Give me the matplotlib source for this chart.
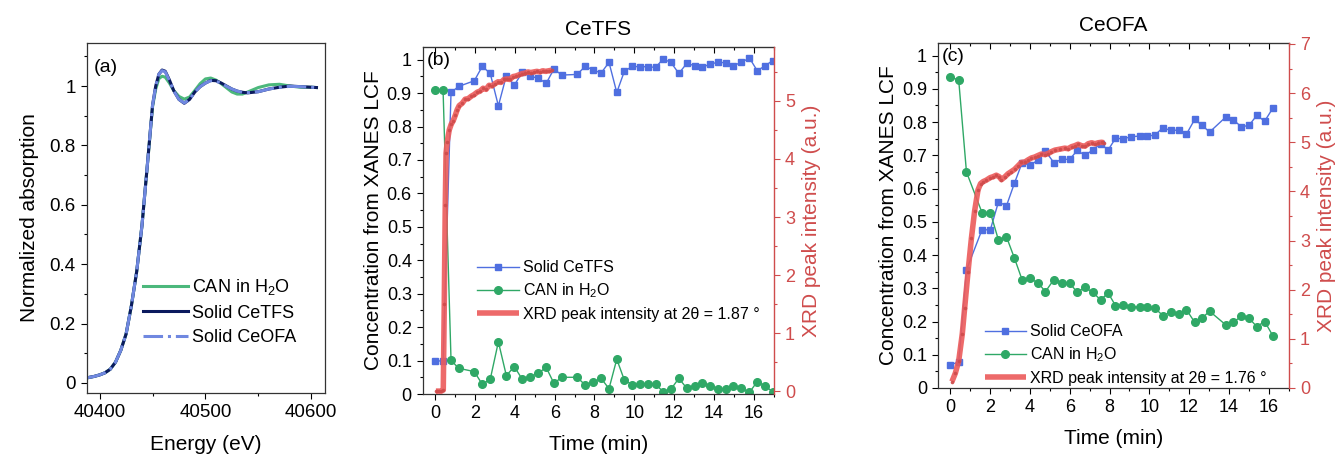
import matplotlib
matplotlib.use("Agg")
import matplotlib.pyplot as plt
from matplotlib.ticker import MultipleLocator, FuncFormatter

plt.rcParams['font.family'] = ['Liberation Sans', 'DejaVu Sans']
plt.rcParams['mathtext.default'] = 'regular'

GREEN = '#2fa866'
BLUE = '#4f6fe0'
NAVY = '#0b1a5e'
LBLUE = '#7088e0'
RED = '#ec5a5a'
DRED = '#cf4c4c'

# --- (a) XANES spectra ---
energy = [40388, 40395, 40400, 40405, 40410, 40415, 40420, 40425, 40430, 40435,
          40440, 40445, 40450, 40453, 40456, 40459, 40462, 40466, 40470, 40475,
          40480, 40485, 40490, 40495, 40500, 40505, 40510, 40515, 40520, 40525,
          40530, 40535, 40540, 40550, 40560, 40570, 40580, 40590, 40600, 40605]
can_h2o = [0.017, 0.022, 0.027, 0.034, 0.046, 0.07, 0.11, 0.165, 0.26, 0.375,
           0.53, 0.73, 0.93, 0.99, 1.025, 1.033, 1.03, 1.01, 0.985, 0.965,
           0.956, 0.963, 0.985, 1.008, 1.024, 1.027, 1.02, 1.008, 0.994, 0.98,
           0.973, 0.973, 0.98, 0.995, 1.004, 1.006, 1.0, 0.996, 0.996, 0.995]
solid_cetfs = [0.017, 0.022, 0.027, 0.034, 0.046, 0.07, 0.11, 0.165, 0.26, 0.375,
               0.53, 0.73, 0.935, 1.0, 1.04, 1.054, 1.05, 1.02, 0.985, 0.955,
               0.942, 0.955, 0.98, 0.998, 1.01, 1.019, 1.018, 1.01, 1.0, 0.99,
               0.983, 0.979, 0.977, 0.981, 0.99, 0.996, 1.0, 0.998, 0.996, 0.995]
solid_ceofa = [0.017, 0.022, 0.027, 0.034, 0.046, 0.07, 0.11, 0.165, 0.26, 0.375,
               0.53, 0.73, 0.935, 1.0, 1.04, 1.052, 1.048, 1.018, 0.984, 0.955,
               0.943, 0.955, 0.98, 0.998, 1.01, 1.018, 1.017, 1.009, 0.999, 0.99,
               0.983, 0.979, 0.978, 0.981, 0.99, 0.996, 0.999, 0.998, 0.996, 0.995]

# --- (b) CeTFS ---
t_b = [0, 0.39, 0.79, 1.17, 1.96, 2.36, 2.76, 3.17, 3.57, 3.97, 4.37, 4.77, 5.18, 5.57,
       5.96, 6.36, 7.13, 7.53, 7.92, 8.33, 8.73, 9.12, 9.5, 9.89, 10.27, 10.68, 11.07,
       11.45, 11.84, 12.24, 12.64, 13.03, 13.42, 13.8, 14.2, 14.59, 14.97, 15.38, 15.79,
       16.18, 16.58, 16.95]
solid_b = [0.10, 0.098, 0.902, 0.92, 0.937, 0.98, 0.959, 0.862, 0.952, 0.924, 0.962, 0.95,
           0.945, 0.929, 0.972, 0.954, 0.956, 0.98, 0.97, 0.96, 0.992, 0.902, 0.965, 0.98,
           0.979, 0.979, 0.977, 1.002, 0.992, 0.959, 0.989, 0.982, 0.977, 0.987, 0.992,
           0.991, 0.982, 0.992, 1.005, 0.967, 0.982, 0.997]
can_b = [0.909, 0.909, 0.101, 0.077, 0.067, 0.029, 0.044, 0.156, 0.055, 0.082, 0.044, 0.052,
         0.062, 0.080, 0.032, 0.050, 0.050, 0.027, 0.035, 0.047, 0.016, 0.104, 0.042, 0.028,
         0.029, 0.029, 0.029, 0.007, 0.014, 0.047, 0.017, 0.025, 0.032, 0.025, 0.015, 0.015,
         0.024, 0.017, 0.005, 0.037, 0.024, 0.007]
t_xrd_b = [0.03, 0.1, 0.2, 0.3, 0.4, 0.45, 0.5, 0.54, 0.6, 0.7, 0.8, 0.9, 1.0, 1.1, 1.2,
           1.35, 1.5, 1.65, 1.8, 1.95, 2.1, 2.25, 2.4, 2.55, 2.7, 2.85, 3.0, 3.15, 3.3, 3.45,
           3.6, 3.75, 3.9, 4.05, 4.2, 4.35, 4.5, 4.65, 4.8, 4.95, 5.1, 5.25, 5.4, 5.55, 5.7, 5.86]
xrd_b = [0.0, 0.0, 0.0, 0.0, 0.02, 1.5, 3.2, 4.1, 4.3, 4.5, 4.6, 4.66, 4.75, 4.85, 4.92,
         4.96, 5.03, 5.04, 5.08, 5.11, 5.15, 5.17, 5.22, 5.2, 5.27, 5.26, 5.3, 5.33, 5.32,
         5.37, 5.38, 5.37, 5.42, 5.43, 5.45, 5.47, 5.48, 5.5, 5.49, 5.5, 5.51, 5.5, 5.52,
         5.51, 5.52, 5.53]

# --- (c) CeOFA ---
t_c = [0, 0.42, 0.81, 1.59, 2.01, 2.42, 2.82, 3.22, 3.61, 4.0, 4.41, 4.78, 5.2, 5.62, 6.0,
       6.38, 6.76, 7.16, 7.55, 7.93, 8.3, 8.69, 9.09, 9.51, 9.9, 10.28, 10.68, 11.07, 11.49,
       11.86, 12.28, 12.66, 13.03, 13.84, 14.23, 14.63, 15.01, 15.4, 15.8, 16.22]
solid_c = [0.07, 0.078, 0.355, 0.476, 0.476, 0.56, 0.548, 0.616, 0.678, 0.67, 0.686, 0.713,
           0.678, 0.688, 0.688, 0.715, 0.70, 0.716, 0.735, 0.716, 0.751, 0.75, 0.756, 0.758,
           0.758, 0.761, 0.783, 0.775, 0.776, 0.763, 0.808, 0.79, 0.77, 0.815, 0.806, 0.786,
           0.79, 0.82, 0.803, 0.843]
can_c = [0.935, 0.927, 0.65, 0.528, 0.528, 0.445, 0.455, 0.391, 0.325, 0.33, 0.316, 0.29,
         0.326, 0.315, 0.315, 0.288, 0.303, 0.288, 0.265, 0.286, 0.248, 0.25, 0.245, 0.243,
         0.243, 0.24, 0.218, 0.228, 0.223, 0.236, 0.198, 0.211, 0.231, 0.19, 0.198, 0.216,
         0.21, 0.185, 0.2, 0.156]
t_xrd_c = [0.08, 0.25, 0.42, 0.6, 0.72, 0.89, 1.06, 1.22, 1.39, 1.52, 1.65, 1.81, 2.0, 2.15,
           2.31, 2.45, 2.57, 2.75, 2.9, 3.05, 3.23, 3.4, 3.57, 3.75, 3.9, 4.07, 4.24, 4.4,
           4.57, 4.75, 4.91, 5.08, 5.25, 5.5, 5.75, 5.92, 6.09, 6.25, 6.42, 6.6, 6.76, 6.93,
           7.1, 7.27, 7.43, 7.6, 7.72]
xrd_c = [0.13, 0.3, 0.55, 1.1, 1.63, 2.37, 3.05, 3.6, 4.03, 4.16, 4.2, 4.23, 4.28, 4.3,
         4.33, 4.3, 4.24, 4.3, 4.36, 4.4, 4.45, 4.52, 4.59, 4.6, 4.64, 4.68, 4.70, 4.73,
         4.76, 4.75, 4.77, 4.81, 4.84, 4.86, 4.88, 4.87, 4.91, 4.93, 4.96, 4.93, 4.92, 4.97,
         4.99, 4.97, 4.99, 5.0, 4.99]

TICK = 13
LAB = 15

fig = plt.figure(figsize=(13.36, 4.59), dpi=100)
plain = FuncFormatter(lambda v, p: f'{v:g}')


def style_axis(ax):
    ax.tick_params(which='both', direction='out', labelsize=TICK, top=False, right=False)
    ax.tick_params(which='major', length=4.5, width=0.8)
    ax.tick_params(which='minor', length=2.5, width=0.8)
    for s in ax.spines.values():
        s.set_color('#333333')
        s.set_linewidth(0.9)


# panel (a)
ax_a = fig.add_axes([0.0651, 0.1438, 0.1781, 0.7625])
ax_a.plot(energy, can_h2o, color='#4cb87c', lw=2.2, label='CAN in H$_2$O')
ax_a.plot(energy, solid_cetfs, color=NAVY, lw=2.2, label='Solid CeTFS')
ax_a.plot(energy, solid_ceofa, color=LBLUE, lw=2.2, ls='-.', label='Solid CeOFA')
ax_a.set_xlim(40388, 40613)
ax_a.set_ylim(-0.034, 1.145)
ax_a.xaxis.set_major_locator(MultipleLocator(100))
ax_a.xaxis.set_minor_locator(MultipleLocator(50))
ax_a.yaxis.set_major_locator(MultipleLocator(0.2))
ax_a.yaxis.set_minor_locator(MultipleLocator(0.1))
ax_a.yaxis.set_major_formatter(plain)
style_axis(ax_a)
ax_a.tick_params(labelsize=13.5)
ax_a.set_xlabel('Energy (eV)', fontsize=15, labelpad=10)
ax_a.set_ylabel('Normalized absorption', fontsize=15, labelpad=8)
ax_a.text(0.03, 0.955, '(a)', transform=ax_a.transAxes, fontsize=14, va='top')
ax_a.legend(loc='upper left', bbox_to_anchor=(0.235, 0.33), frameon=False, fontsize=13,
            handlelength=2.5, handletextpad=0.2, labelspacing=0.4, borderpad=0, borderaxespad=0)


def kinetics_panel(rect, t, solid, can, t_x, xrd, solid_label, xrd_label, title, tag,
                   ylim2, yticks2, leg_anchor):
    ax = fig.add_axes(rect)
    ax.plot(t, solid, color=BLUE, lw=1, marker='s', ms=5, label=solid_label)
    ax.plot(t, can, color=GREEN, lw=1, marker='o', ms=5.5, label='CAN in H$_2$O')
    ax.set_xlim(-0.62, 17.02)
    ax.set_ylim(0, 1.038)
    ax.xaxis.set_major_locator(MultipleLocator(2))
    ax.xaxis.set_minor_locator(MultipleLocator(1))
    ax.yaxis.set_major_locator(MultipleLocator(0.1))
    ax.yaxis.set_minor_locator(MultipleLocator(0.05))
    ax.yaxis.set_major_formatter(plain)
    style_axis(ax)
    ax.set_xlabel('Time (min)', fontsize=LAB, labelpad=9)
    ax.set_ylabel('Concentration from XANES LCF', fontsize=LAB, labelpad=3)
    ax.set_title(title, fontsize=LAB, pad=9)
    ax.text(0.01, 0.985, tag, transform=ax.transAxes, fontsize=14, va='top')
    ax.spines['right'].set_visible(False)

    # inward ticks along the top frame
    top = ax.secondary_xaxis('top')
    top.xaxis.set_major_locator(MultipleLocator(2))
    top.xaxis.set_minor_locator(MultipleLocator(1))
    top.tick_params(which='both', direction='in', labeltop=False, width=0.8)
    top.tick_params(which='major', length=4.5)
    top.tick_params(which='minor', length=2.5)
    top.spines['top'].set_color('#333333')

    ax2 = ax.twinx()
    ax2.plot(t_x, xrd, color=RED, lw=4, alpha=0.9, solid_capstyle='butt',
             marker='o', ms=1.6, mfc=DRED, mec=DRED, label=xrd_label)
    ax2.set_ylim(*ylim2)
    ax2.yaxis.set_minor_locator(MultipleLocator(0.5))
    ax2.set_yticks(yticks2)
    ax2.tick_params(axis='y', which='both', direction='out', colors=DRED, labelsize=TICK)
    ax2.tick_params(which='major', length=4.5, width=0.8)
    ax2.tick_params(which='minor', length=2.5, width=0.8)
    for side in ('left', 'top', 'bottom'):
        ax2.spines[side].set_visible(False)
    ax2.spines['right'].set_color(DRED)
    ax2.spines['right'].set_linewidth(1.0)
    ax2.set_ylabel('XRD peak intensity (a.u.)', fontsize=LAB, color=DRED, labelpad=5)

    h1, l1 = ax.get_legend_handles_labels()
    h2, l2 = ax2.get_legend_handles_labels()
    leg = ax2.legend(h1 + h2, l1 + l2, loc='upper left', bbox_to_anchor=leg_anchor,
                     frameon=False, fontsize=11.5, handlelength=2.6, handletextpad=0.25,
                     labelspacing=0.4, borderpad=0, borderaxespad=0)
    leg.legend_handles[2].set_marker('')
    return ax, ax2


kinetics_panel([0.3166, 0.1416, 0.2627, 0.756], t_b, solid_b, can_b, t_xrd_b, xrd_b,
               'Solid CeTFS', 'XRD peak intensity at 2\u03b8 = 1.87 \u00b0', 'CeTFS', '(b)',
               (-0.05, 5.93), [0, 1, 2, 3, 4, 5], (0.155, 0.385))
kinetics_panel([0.7021, 0.1547, 0.2627, 0.7516], t_c, solid_c, can_c, t_xrd_c, xrd_c,
               'Solid CeOFA', 'XRD peak intensity at 2\u03b8 = 1.76 \u00b0', 'CeOFA', '(c)',
               (0, 7.02), [0, 1, 2, 3, 4, 5, 6, 7], (0.133, 0.185))

fig.savefig('out.png', dpi=100)
